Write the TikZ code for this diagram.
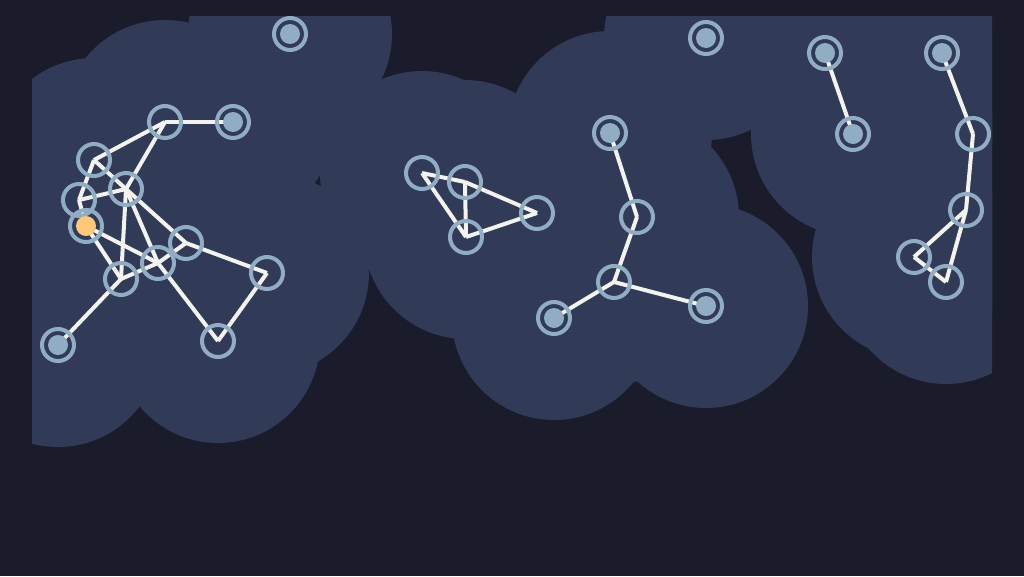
\documentclass[tikz,border=0pt]{standalone}
\definecolor{bgc}{HTML}{1B1C2B}
\definecolor{regionc}{HTML}{313A57}
\definecolor{ringc}{HTML}{90ADC4}
\definecolor{edgec}{HTML}{F2F2EE}
\definecolor{orangec}{HTML}{FDC877}
\pgfdeclarelayer{bglayer}
\pgfdeclarelayer{edgelayer}
\pgfsetlayers{bglayer,edgelayer,main}
\begin{document}
\begin{tikzpicture}[x=1pt,y=-1pt,
  nd/.style={circle,draw=ringc,line width=4pt,minimum size=32pt,inner sep=0pt},
  full/.style={nd,path picture={\fill[ringc] (path picture bounding box.center) circle (10pt);}},
  sel/.style={nd,path picture={\fill[orangec] (path picture bounding box.center) circle (10pt);}},
  edge/.style={draw=edgec,line width=4pt}]
\useasboundingbox (0,0) rectangle (1024,576);
% left cluster
\node[full] (N1) at (290,34) {};
\node[nd] (A) at (165,122) {};
\node[full] (B) at (233,122) {};
\node[nd] (C) at (94,160) {};
\node[nd] (D) at (126,189) {};
\node[nd] (E) at (79,200) {};
\node[sel] (F) at (86,226) {};
\node[nd] (G) at (186,243) {};
\node[nd] (H) at (158,263) {};
\node[nd] (I) at (121,279) {};
\node[nd] (J) at (267,273) {};
\node[nd] (K) at (218,341) {};
\node[full] (L) at (58,345) {};
% middle cluster
\node[nd] (M1) at (422,173) {};
\node[nd] (M2) at (465,182) {};
\node[nd] (M3) at (537,213) {};
\node[nd] (M4) at (466,237) {};
% right-middle cluster
\node[full] (P1) at (610,133) {};
\node[nd] (P2) at (637,217) {};
\node[nd] (P3) at (614,282) {};
\node[full] (P4) at (554,318) {};
\node[full] (P5) at (706,306) {};
\node[full] (N2) at (706,38) {};
% right clusters
\node[full] (Q1) at (825,53) {};
\node[full] (Q2) at (853,134) {};
\node[full] (R1) at (942,53) {};
\node[nd] (R2) at (973,134) {};
\node[nd] (R3) at (966,210) {};
\node[nd] (R4) at (914,257) {};
\node[nd] (R5) at (946,282) {};
\begin{pgfonlayer}{bglayer}
\fill[bgc] (0,0) rectangle (1024,576);
\begin{scope}
\clip (32,16) rectangle (992,576);
\foreach \n in {N1,A,B,C,D,E,F,G,H,I,J,K,L,M1,M2,M3,M4,P1,P2,P3,P4,P5,N2,Q1,Q2,R1,R2,R3,R4,R5}
  \fill[regionc] (\n.center) circle (102pt);
\end{scope}
\end{pgfonlayer}
\begin{pgfonlayer}{edgelayer}
\foreach \a/\b in {A/B,A/C,A/D,C/D,C/E,E/F,E/D,D/I,D/H,D/G,F/I,F/H,I/H,H/G,G/J,H/K,J/K,I/L,
  M1/M2,M1/M4,M2/M4,M2/M3,M4/M3,
  P1/P2,P2/P3,P3/P4,P3/P5,
  Q1/Q2,R1/R2,R2/R3,R3/R4,R3/R5,R4/R5}
  \draw[edge] (\a.center) -- (\b.center);
\end{pgfonlayer}
\end{tikzpicture}
\end{document}
